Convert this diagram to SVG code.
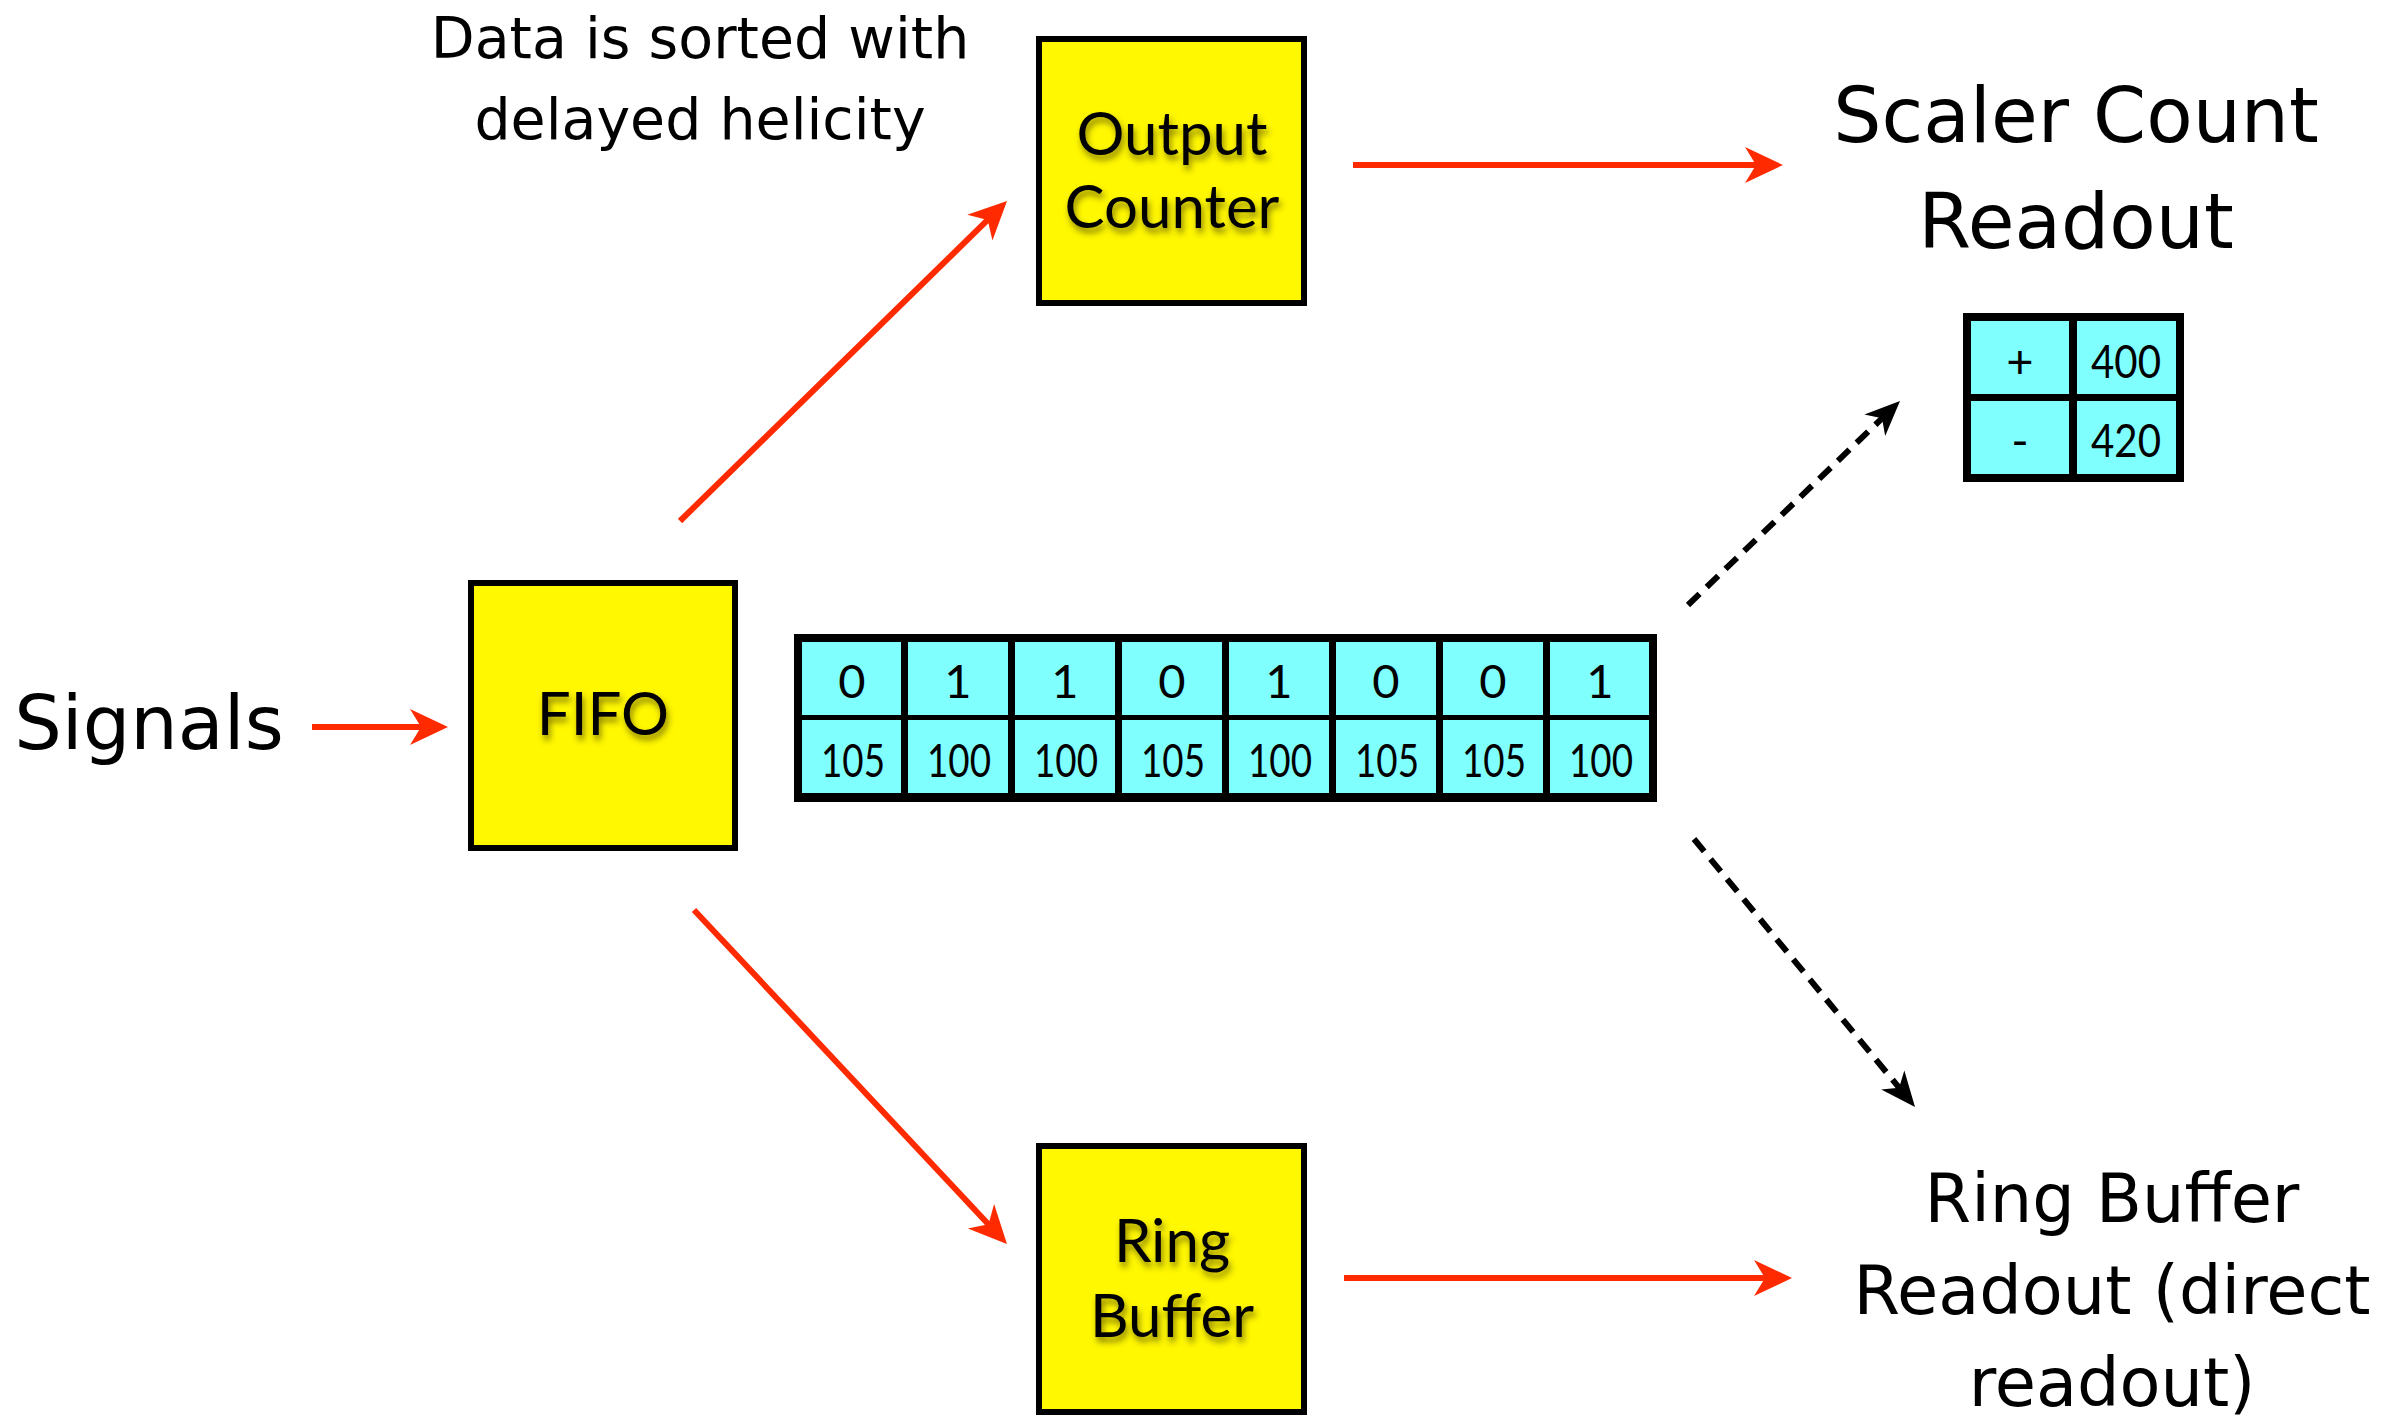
<svg xmlns="http://www.w3.org/2000/svg" width="2402" height="1419" viewBox="0 0 2402 1419">
  <style>
    .box { fill: #fff800; stroke: #000; stroke-width: 6; }
    .blabel { font-family: "Gill Sans", Lato, "Open Sans", sans-serif; font-size: 60px; fill: #000; text-anchor: middle; }
    .hand { font-family: Chalkboard, "Comic Sans MS", "DejaVu Sans", sans-serif; fill: #000; text-anchor: middle; }
    .cell { fill: #80ffff; }
    .frame { fill: #000; }
    .num { font-family: "Gill Sans", Lato, "Open Sans", sans-serif; font-size: 47px; fill: #000; text-anchor: middle; }
    .red { stroke: #ff2a00; stroke-width: 6; fill: none; marker-end: url(#redhead); }
    .dash { stroke: #000; stroke-width: 6; fill: none; stroke-dasharray: 16 10; marker-end: url(#blackhead); }
  </style>
  <defs>
    <filter id="shadow" x="-20%" y="-20%" width="140%" height="160%">
      <feDropShadow dx="2" dy="5" stdDeviation="3" flood-color="#3a3200" flood-opacity="0.6"/>
    </filter>
    <marker id="redhead" markerUnits="userSpaceOnUse" viewBox="0 0 38 38" markerWidth="38" markerHeight="38" refX="17" refY="19" orient="auto">
      <path d="M0,1 L38,19 L0,37 L11,19 Z" fill="#ff2a00"/>
    </marker>
    <marker id="blackhead" markerUnits="userSpaceOnUse" viewBox="0 0 36 36" markerWidth="36" markerHeight="36" refX="16" refY="18" orient="auto">
      <path d="M1,3 L36,18 L1,33 L11,18 Z" fill="#000"/>
    </marker>
  </defs>
  <rect width="2402" height="1419" fill="#fff"/>

  <g id="note">
    <text class="hand" x="700" y="58" font-size="57">Data is sorted with</text>
    <text class="hand" x="700" y="139" font-size="57">delayed helicity</text>
  </g>

  <g id="signals">
    <text class="hand" x="149" y="749" font-size="75">Signals</text>
  </g>

  <g id="fifo">
    <rect class="box" x="471" y="583" width="264" height="265"/>
    <text class="blabel" x="603" y="735" filter="url(#shadow)">FIFO</text>
  </g>

  <g id="output-counter">
    <rect class="box" x="1039" y="39" width="265" height="264"/>
    <text class="blabel" x="1172" y="155" filter="url(#shadow)">Output</text>
    <text class="blabel" x="1172" y="228" filter="url(#shadow)">Counter</text>
  </g>

  <g id="ring-buffer">
    <rect class="box" x="1039" y="1146" width="265" height="266"/>
    <text class="blabel" x="1172" y="1262" filter="url(#shadow)">Ring</text>
    <text class="blabel" x="1172" y="1337" filter="url(#shadow)">Buffer</text>
  </g>

  <g id="scaler-readout">
    <text class="hand" x="2076" y="142" font-size="76">Scaler Count</text>
    <text class="hand" x="2076" y="248" font-size="76">Readout</text>
  </g>

  <g id="scaler-table">
    <rect class="frame" x="1963" y="313" width="221" height="169"/>
    <rect class="cell" x="1971" y="321" width="98" height="73"/>
    <rect class="cell" x="2077" y="321" width="99" height="73"/>
    <rect class="cell" x="1971" y="401" width="98" height="73"/>
    <rect class="cell" x="2077" y="401" width="99" height="73"/>
    <text class="num" x="2020" y="378">+</text>
    <text class="num" x="2126" y="378" textLength="70" lengthAdjust="spacingAndGlyphs">400</text>
    <text class="num" x="2020" y="457">-</text>
    <text class="num" x="2126" y="457" textLength="70" lengthAdjust="spacingAndGlyphs">420</text>
  </g>

  <g id="data-table">
    <rect class="frame" x="794" y="634" width="863" height="168"/>
    <g>
      <rect class="cell" x="802" y="642" width="99" height="73"/>
      <rect class="cell" x="908" y="642" width="100" height="73"/>
      <rect class="cell" x="1015" y="642" width="100" height="73"/>
      <rect class="cell" x="1122" y="642" width="100" height="73"/>
      <rect class="cell" x="1229" y="642" width="100" height="73"/>
      <rect class="cell" x="1336" y="642" width="100" height="73"/>
      <rect class="cell" x="1443" y="642" width="100" height="73"/>
      <rect class="cell" x="1550" y="642" width="99" height="73"/>
      <rect class="cell" x="802" y="720" width="99" height="73"/>
      <rect class="cell" x="908" y="720" width="100" height="73"/>
      <rect class="cell" x="1015" y="720" width="100" height="73"/>
      <rect class="cell" x="1122" y="720" width="100" height="73"/>
      <rect class="cell" x="1229" y="720" width="100" height="73"/>
      <rect class="cell" x="1336" y="720" width="100" height="73"/>
      <rect class="cell" x="1443" y="720" width="100" height="73"/>
      <rect class="cell" x="1550" y="720" width="99" height="73"/>
    </g>
    <g>
      <text class="num" x="852" y="698">0</text>
      <text class="num" x="958" y="698">1</text>
      <text class="num" x="1065" y="698">1</text>
      <text class="num" x="1172" y="698">0</text>
      <text class="num" x="1279" y="698">1</text>
      <text class="num" x="1386" y="698">0</text>
      <text class="num" x="1493" y="698">0</text>
      <text class="num" x="1600" y="698">1</text>
      <text class="num" x="853" y="777" textLength="64" lengthAdjust="spacingAndGlyphs">105</text>
      <text class="num" x="959" y="777" textLength="64" lengthAdjust="spacingAndGlyphs">100</text>
      <text class="num" x="1066" y="777" textLength="64" lengthAdjust="spacingAndGlyphs">100</text>
      <text class="num" x="1173" y="777" textLength="64" lengthAdjust="spacingAndGlyphs">105</text>
      <text class="num" x="1280" y="777" textLength="64" lengthAdjust="spacingAndGlyphs">100</text>
      <text class="num" x="1387" y="777" textLength="64" lengthAdjust="spacingAndGlyphs">105</text>
      <text class="num" x="1494" y="777" textLength="64" lengthAdjust="spacingAndGlyphs">105</text>
      <text class="num" x="1601" y="777" textLength="64" lengthAdjust="spacingAndGlyphs">100</text>
    </g>
  </g>

  <g id="ring-readout">
    <text class="hand" x="2112" y="1222" font-size="67">Ring Buffer</text>
    <text class="hand" x="2112" y="1314" font-size="67">Readout (direct</text>
    <text class="hand" x="2112" y="1406" font-size="67">readout)</text>
  </g>

  <g id="connectors">
    <line class="red" x1="312" y1="727" x2="427" y2="727"/>
    <line class="red" x1="680" y1="521" x2="992" y2="215.7"/>
    <line class="red" x1="694" y1="910" x2="992.6" y2="1228.7"/>
    <line class="red" x1="1353" y1="165" x2="1762" y2="165"/>
    <line class="red" x1="1344" y1="1278" x2="1771" y2="1278"/>
    <line class="dash" x1="1688" y1="605" x2="1885.6" y2="414.9"/>
    <line class="dash" x1="1694" y1="839" x2="1902.3" y2="1091.6"/>
  </g>
</svg>
